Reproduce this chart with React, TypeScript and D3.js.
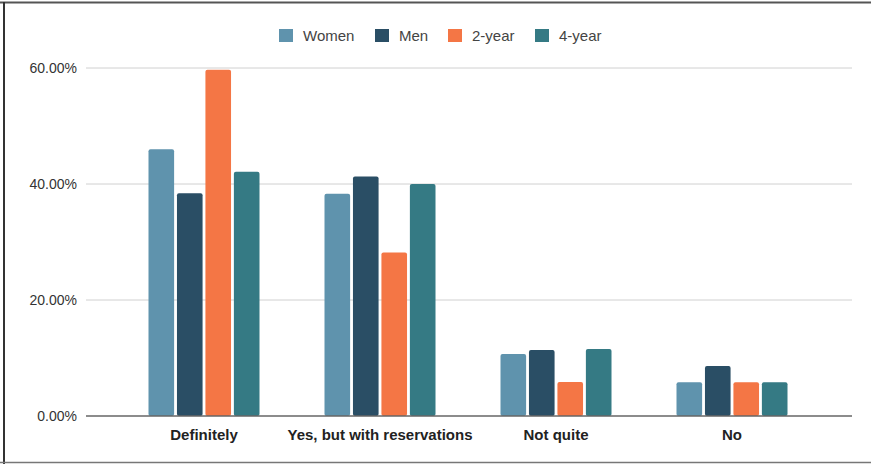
import React from "react";
import * as d3 from "d3";

const categories = ["Definitely", "Yes, but with reservations", "Not quite", "No"];
const seriesNames = ["Women", "Men", "2-year", "4-year"];
const women = [46.0, 38.3, 10.7, 5.8];
const men = [38.4, 41.3, 11.4, 8.6];
const twoYear = [59.7, 28.2, 5.85, 5.8];
const fourYear = [42.1, 40.0, 11.55, 5.8];
const yTicks = [0, 20, 40, 60];
const colors = ["#5f93ad", "#2a4e65", "#f47645", "#357a84"];

const W = 871;
const H = 464;

export default function App() {
  const seriesValues = [women, men, twoYear, fourYear];
  const y = d3.scaleLinear().domain([0, 60]).range([416, 68]);
  const x0 = d3.scaleBand<string>().domain(categories).range([116, 820]).padding(0);
  const groupW = 111;
  const x1 = d3.scaleBand<string>().domain(seriesNames).range([0, groupW]).paddingInner(0.1);
  const gridX1 = 86;
  const gridX2 = 852;
  const font = "'Liberation Sans', Arial, sans-serif";
  const legendX = [279, 375, 448, 535];

  return (
    <svg width={W} height={H} style={{ position: "fixed", top: 0, left: 0, background: "#fff" }} fontFamily={font}>
      <rect x={0} y={0} width={W} height={H} fill="#fff" />
      {/* frame */}
      <line x1={0} x2={W} y1={2.5} y2={2.5} stroke="#555" strokeWidth={2} />
      <line x1={4} x2={4} y1={2} y2={H} stroke="#333" strokeWidth={2} />
      <line x1={0} x2={W} y1={462.5} y2={462.5} stroke="#777" strokeWidth={1.5} />

      {/* legend */}
      {seriesNames.map((s, i) => (
        <g key={s}>
          <rect x={legendX[i]} y={29} width={14} height={13} fill={colors[i]} />
          <text x={legendX[i] + 24} y={41} fontSize={15} fill="#444">{s}</text>
        </g>
      ))}

      {/* grid + y labels */}
      {yTicks.map((t) => (
        <g key={t}>
          {t !== 0 && (
            <line x1={gridX1} x2={gridX2} y1={y(t)} y2={y(t)} stroke="#d0d0d0" strokeWidth={1} />
          )}
          <text x={77} y={y(t) + 5} fontSize={14} fill="#333" textAnchor="end">
            {t.toFixed(2) + "%"}
          </text>
        </g>
      ))}

      {/* bars */}
      {categories.map((c, ci) => {
        const gx = (x0(c) as number) + x0.bandwidth() / 2 - groupW / 2;
        return (
          <g key={c}>
            {seriesNames.map((s, si) => {
              const v = seriesValues[si][ci];
              const bx = gx + (x1(s) as number);
              return (
                <rect
                  key={s}
                  x={bx}
                  y={y(v)}
                  width={x1.bandwidth()}
                  height={y(0) - y(v)}
                  fill={colors[si]}
                  rx={2}
                  ry={2}
                />
              );
            })}
          </g>
        );
      })}

      {/* zero line */}
      <line x1={gridX1} x2={gridX2} y1={y(0)} y2={y(0)} stroke="#666" strokeWidth={1.5} />

      {/* category labels */}
      {categories.map((c) => (
        <text
          key={c}
          x={(x0(c) as number) + x0.bandwidth() / 2}
          y={440}
          fontSize={15}
          fontWeight="bold"
          fill="#222"
          textAnchor="middle"
        >
          {c}
        </text>
      ))}
    </svg>
  );
}
